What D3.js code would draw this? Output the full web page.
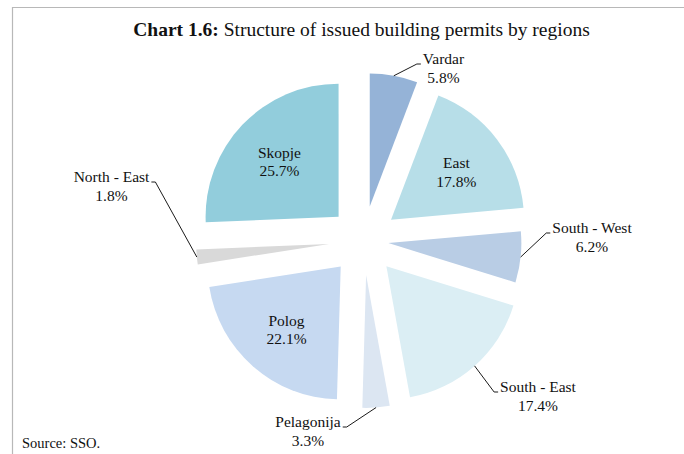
<!DOCTYPE html>
<html>
<script src='https://d3js.org/d3.v7.min.js'></script>
<style>
body {margin:0; background:white;}
text {font-family:'Liberation Serif', serif; fill:#111;}
</style>
<body onload='init()'>
<script>
// data: share of issued building permits (%), clockwise from 12 o'clock
var regions = ['Vardar','East','South - West','South - East','Pelagonija','Polog','North - East','Skopje'];
var shares = [5.8,17.8,6.2,17.4,3.3,22.1,1.8,25.7];
var colors = ['#95b3d7','#b7dee8','#b9cde5','#dbeef4','#dce6f2','#c6d9f1','#d9d9d9','#92cddc'];
// labels placed outside with a leader line
var outside = [true,false,true,true,true,false,true,false];
// point explosion of each slice (px)
var explode = [34.5,34.5,25,34.5,34.5,34.5,34.5,34.5];
// outside label: centre x / first baseline, relative to pie centre
var labelOffset = [[80,-176.5],null,[228.5,-7.5],[174.5,151.5],[-55.5,186.5],null,[-252,-58.5],null];

function init() {
var W = 684, H = 454;
var cx = 363.5, cy = 240.5, r = 133;

var data = regions.map(function(d,i){ return {name:d, value:shares[i], i:i}; });

var svg = d3.select('body')
.append('svg')
.attr('width', W)
.attr('height', H);

// chart frame (top and left edges visible)
svg.append('path')
.attr('d', 'M12.5,' + H + 'V7.5H' + W)
.attr('fill','none')
.attr('stroke','#b8b8b8')
.attr('stroke-width',1.2);

// title
var title = svg.append('text')
.attr('x', 361.5)
.attr('y', 36)
.style('text-anchor','middle')
.style('font-size','19.5px');
title.append('tspan').style('font-weight','bold').text('Chart 1.6:');
title.append('tspan').text(' Structure of issued building permits by regions');

var pie = d3.pie().sort(null).value(function(d){return d.value;});
var arcs = pie(data);
var arc = d3.arc().innerRadius(0).outerRadius(r);
var inLabel = d3.arc().innerRadius(82).outerRadius(82);

function mid(d){ return (d.startAngle + d.endAngle) / 2; }
function shift(d){
  var a = mid(d), e = explode[d.data.i];
  return [e * Math.sin(a), -e * Math.cos(a)];
}

var g = svg.append('g')
.attr('transform','translate(' + cx + ',' + cy + ')');

g.selectAll('path.slice')
.data(arcs)
.enter()
.append('path')
.attr('class','slice')
.attr('transform', function(d){ var s = shift(d); return 'translate(' + s[0] + ',' + s[1] + ')'; })
.attr('d', arc)
.style('fill', function(d){ return colors[d.data.i]; });

// labels inside the slice
var inner = g.selectAll('text.inlab')
.data(arcs.filter(function(d){ return !outside[d.data.i]; }))
.enter()
.append('text')
.attr('class','inlab')
.style('text-anchor','middle')
.style('font-size','15.5px');
inner.append('tspan')
.attr('x', function(d){ return shift(d)[0] + inLabel.centroid(d)[0]; })
.attr('y', function(d){ return shift(d)[1] + inLabel.centroid(d)[1] - 2; })
.text(function(d){ return d.data.name; });
inner.append('tspan')
.attr('x', function(d){ return shift(d)[0] + inLabel.centroid(d)[0]; })
.attr('y', function(d){ return shift(d)[1] + inLabel.centroid(d)[1] + 16.5; })
.text(function(d){ return d3.format('.1f')(d.data.value) + '%'; });

// labels outside with leader lines
var outArcs = arcs.filter(function(d){ return outside[d.data.i]; });
var outer = g.selectAll('g.outlab')
.data(outArcs)
.enter()
.append('g')
.attr('class','outlab');

var lab = outer.append('text')
.style('text-anchor','middle')
.style('font-size','15.5px');
lab.append('tspan')
.attr('class','l1')
.attr('x', function(d){ return labelOffset[d.data.i][0]; })
.attr('y', function(d){ return labelOffset[d.data.i][1]; })
.text(function(d){ return d.data.name; });
lab.append('tspan')
.attr('x', function(d){ return labelOffset[d.data.i][0]; })
.attr('y', function(d){ return labelOffset[d.data.i][1] + 18.5; })
.text(function(d){ return d3.format('.1f')(d.data.value) + '%'; });

outer.each(function(d){
  var s = shift(d), a = mid(d);
  var x0 = s[0] + r * Math.sin(a), y0 = s[1] - r * Math.cos(a);
  var lo = labelOffset[d.data.i];
  var w = d3.select(this).select('tspan.l1').node().getComputedTextLength();
  var side = lo[0] > x0 ? -1 : 1;
  var edge = lo[0] + side * w / 2;
  d3.select(this).insert('polyline','text')
  .attr('points', [[x0,y0],[edge + side * 6, lo[1]],[edge + side * 2, lo[1]]].join(' '))
  .attr('fill','none')
  .attr('stroke','#000')
  .attr('stroke-width',0.9);
});

// source note
svg.append('text')
.attr('x', 22)
.attr('y', 448)
.style('font-size','14.5px')
.text('Source: SSO.');
}
</script>
</body>
</html>
